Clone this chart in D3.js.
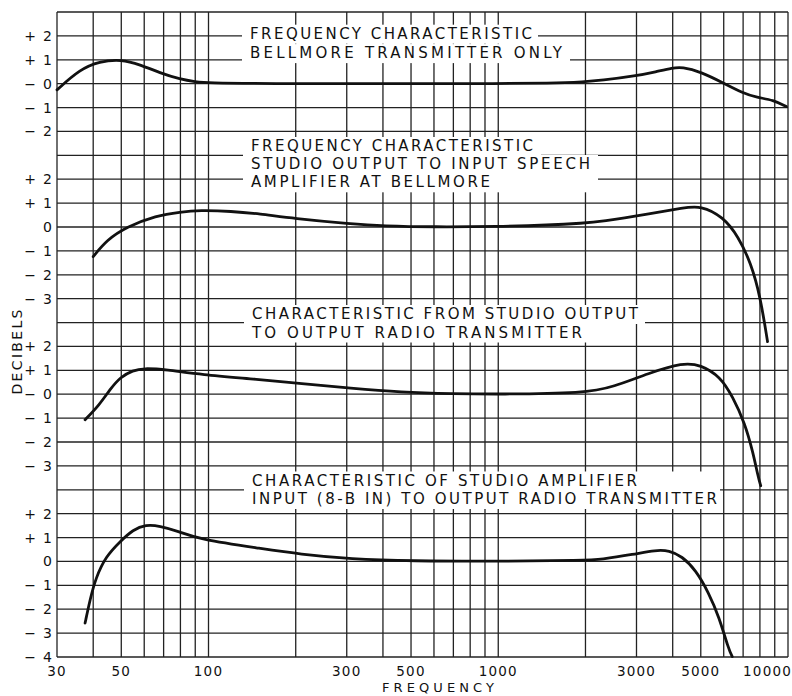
<!DOCTYPE html>
<html>
<head>
<meta charset="utf-8">
<script src="https://cdn.jsdelivr.net/npm/d3@7"></script>
<style>
  body { margin: 0; background: #fff; }
  text { font-family: "DejaVu Sans", sans-serif; fill: #111; }
</style>
</head>
<body>
<div id="chart"></div>
<script>
// frequency axis (log)
var freqTicks = [30, 50, 100, 300, 500, 1000, 3000, 5000, 10000];
var gridFreqs = [30, 40, 50, 60, 70, 80, 90, 100, 200, 300, 400, 500, 600, 700, 800, 900,
                 1000, 2000, 3000, 4000, 5000, 6000, 7000, 8000, 9000, 10000];

// decibel labels of each of the four panels, top to bottom
var p1Values = [2, 1, 0, -1, -2];
var p1Labels = ["+ 2", "+ 1", "− 0", "− 1", "− 2"];
var p2Values = [2, 1, 0, -1, -2, -3];
var p2Labels = ["+ 2", "+ 1", "0", "− 1", "− 2", "− 3"];
var p3Values = [2, 1, 0, -1, -2, -3];
var p3Labels = ["+ 2", "+ 1", "− 0", "− 1", "− 2", "− 3"];
var p4Values = [2, 1, 0, -1, -2, -3, -4];
var p4Labels = ["+ 2", "+ 1", "0", "− 1", "− 2", "− 3", "− 4"];

// curve 1: Bellmore transmitter only
var c1Freq = [30, 36, 42, 50, 58, 68, 80, 90, 100, 150, 500, 1000, 1500, 2000, 2250, 3000, 3500, 4000, 4300, 5000, 6000, 7000, 7800, 8900, 9870];
var c1Db   = [-0.26, 0.6, 0.93, 1.02, 0.8, 0.45, 0.18, 0.08, 0.03, 0, 0, 0, 0.02, 0.08, 0.13, 0.33, 0.5, 0.66, 0.7, 0.5, 0.02, -0.4, -0.58, -0.68, -0.96];

// curve 2: studio output to input speech amplifier
var c2Freq = [40, 44.6, 52, 66, 80, 93, 120, 150, 196, 310, 400, 600, 1000, 1500, 1960, 2250, 3400, 4340, 5000, 5970, 6740, 7450, 8020, 8500];
var c2Db   = [-1.24, -0.54, 0, 0.48, 0.63, 0.7, 0.66, 0.55, 0.36, 0.13, 0.04, 0, 0.02, 0.08, 0.16, 0.22, 0.57, 0.8, 0.9, 0.43, -0.4, -1.52, -2.9, -4.8];

// curve 3: studio output to output radio transmitter
var c3Freq = [37.5, 42, 45.7, 49.6, 54.9, 59.6, 71.5, 93.5, 150, 207, 310, 460, 700, 1000, 2000, 2490, 3300, 4350, 4990, 5840, 6440, 7100, 7580, 7880, 8050];
var c3Db   = [-1.07, -0.45, 0.2, 0.72, 1.0, 1.09, 1.03, 0.82, 0.62, 0.45, 0.25, 0.08, 0.02, 0, 0.04, 0.3, 0.88, 1.33, 1.23, 0.74, -0.1, -1.21, -2.46, -3.44, -3.83];

// curve 4: studio amplifier input to output radio transmitter
var c4Freq = [37.5, 39, 40.8, 44.2, 49.6, 54.9, 60.8, 67.7, 79, 93.5, 150, 207, 310, 500, 1000, 2000, 2250, 2940, 3500, 3890, 4300, 4800, 5330, 5770, 6250, 6420];
var c4Db   = [-2.58, -1.6, -0.7, 0.21, 0.84, 1.33, 1.54, 1.49, 1.26, 0.91, 0.55, 0.3, 0.1, 0.02, 0, 0.05, 0.08, 0.3, 0.48, 0.46, 0.22, -0.35, -1.32, -2.3, -3.7, -3.98];

// titles
var t1Lines = ["FREQUENCY CHARACTERISTIC", "BELLMORE TRANSMITTER ONLY"];
var t2Lines = ["FREQUENCY CHARACTERISTIC", "STUDIO OUTPUT TO INPUT SPEECH", "AMPLIFIER AT BELLMORE"];
var t3Lines = ["CHARACTERISTIC FROM STUDIO OUTPUT", "TO OUTPUT RADIO TRANSMITTER"];
var t4Lines = ["CHARACTERISTIC OF STUDIO AMPLIFIER", "INPUT (8-B IN) TO OUTPUT RADIO TRANSMITTER"];

var width = 792, height = 696;
var plot = {left: 57, right: 788, top: 12, bottom: 657};

var svg = d3.select("#chart").append("svg")
    .attr("width", width)
    .attr("height", height);

svg.append("rect").attr("width", width).attr("height", height).attr("fill", "#fff");

var x = d3.scaleLog().domain([30, 10000]).range([plot.left, plot.right]);
// 27 grid rows, one dB each, shared by the panels
var rows = d3.scaleLinear().domain([0, 27]).range([plot.top, plot.bottom]);

var panels = [
  {db: [3, -3], rows: [0, 6],   values: p1Values, labels: p1Labels, freq: c1Freq, dbs: c1Db},
  {db: [3, -4], rows: [6, 13],  values: p2Values, labels: p2Labels, freq: c2Freq, dbs: c2Db},
  {db: [3, -4], rows: [13, 20], values: p3Values, labels: p3Labels, freq: c3Freq, dbs: c3Db},
  {db: [3, -4], rows: [20, 27], values: p4Values, labels: p4Labels, freq: c4Freq, dbs: c4Db}
];
panels.forEach(function(p) {
  p.y = d3.scaleLinear().domain(p.db).range([rows(p.rows[0]), rows(p.rows[1])]);
});

// grid
var grid = svg.append("g").attr("stroke", "#222").attr("stroke-width", 1.3);
grid.selectAll("line.v").data(gridFreqs).enter().append("line")
    .attr("class", "v")
    .attr("x1", function(d) { return x(d); }).attr("x2", function(d) { return x(d); })
    .attr("y1", plot.top).attr("y2", plot.bottom);
grid.selectAll("line.h").data(d3.range(28)).enter().append("line")
    .attr("class", "h")
    .attr("x1", plot.left).attr("x2", plot.right)
    .attr("y1", function(d) { return rows(d); }).attr("y2", function(d) { return rows(d); });

// title blocks: white knock-out behind each line of lettering
var titleLayout = [
  {lines: t1Lines, x0: 250, ends: [532, 562], base: [38.7, 58.1], box: [538, 570]},
  {lines: t2Lines, x0: 251, ends: [533, 590, 490], base: [151, 169, 187.3], box: [541, 598, 598]},
  {lines: t3Lines, x0: 252, ends: [638, 582], base: [319, 337.5], box: [645, 592]},
  {lines: t4Lines, x0: 252, ends: [637, 717], base: [485.5, 504], box: [720, 720]}
];
titleLayout.forEach(function(t) {
  var g = svg.append("g");
  t.lines.forEach(function(line, i) {
    g.append("rect")
      .attr("x", t.x0 - 8).attr("y", t.base[i] - 14)
      .attr("width", t.box[i] - t.x0 + 8).attr("height", 19)
      .attr("fill", "#fff");
  });
  t.lines.forEach(function(line, i) {
    g.append("text")
      .attr("x", t.x0).attr("y", t.base[i])
      .attr("font-size", 15)
      .attr("textLength", t.ends[i] - t.x0)
      .attr("lengthAdjust", "spacing")
      .text(line);
  });
});

// curves
var line = d3.line()
    .x(function(d) { return x(d[0]); })
    .curve(d3.curveBasis);
panels.forEach(function(p) {
  var pts = p.freq.map(function(f, i) { return [f, p.dbs[i]]; });
  svg.append("path")
    .datum(pts)
    .attr("d", line.y(function(d) { return p.y(d[1]); }))
    .attr("fill", "none")
    .attr("stroke", "#111")
    .attr("stroke-width", 2.8)
    .attr("stroke-linecap", "round");
});

// decibel labels: sign and digit in two columns
panels.forEach(function(p) {
  p.values.forEach(function(v, i) {
    var parts = p.labels[i].split(" ");
    var t = svg.append("text")
      .attr("y", p.y(v) + 5)
      .attr("font-size", 14)
      .attr("text-anchor", "middle");
    if (parts.length > 1) {
      t.append("tspan").attr("x", 30).text(parts[0]);
      t.append("tspan").attr("x", 47.5).text(parts[1]);
    } else {
      t.append("tspan").attr("x", 47.5).text(parts[0]);
    }
  });
});

svg.append("text")
    .attr("transform", "translate(22,352) rotate(-90)")
    .attr("text-anchor", "middle")
    .attr("font-size", 14)
    .attr("textLength", 85)
    .attr("lengthAdjust", "spacing")
    .text("DECIBELS");

// frequency labels
svg.selectAll("text.xt").data(freqTicks).enter().append("text")
    .attr("class", "xt")
    .attr("x", function(d) { return d === 10000 ? 792 : x(d); })
    .attr("y", 676)
    .attr("font-size", 13.5)
    .attr("letter-spacing", 1.2)
    .attr("text-anchor", function(d) { return d === 10000 ? "end" : "middle"; })
    .text(function(d) { return d; });

svg.append("text")
    .attr("x", 382).attr("y", 692)
    .attr("font-size", 13)
    .attr("textLength", 112)
    .attr("lengthAdjust", "spacing")
    .text("FREQUENCY");
</script>
</body>
</html>
